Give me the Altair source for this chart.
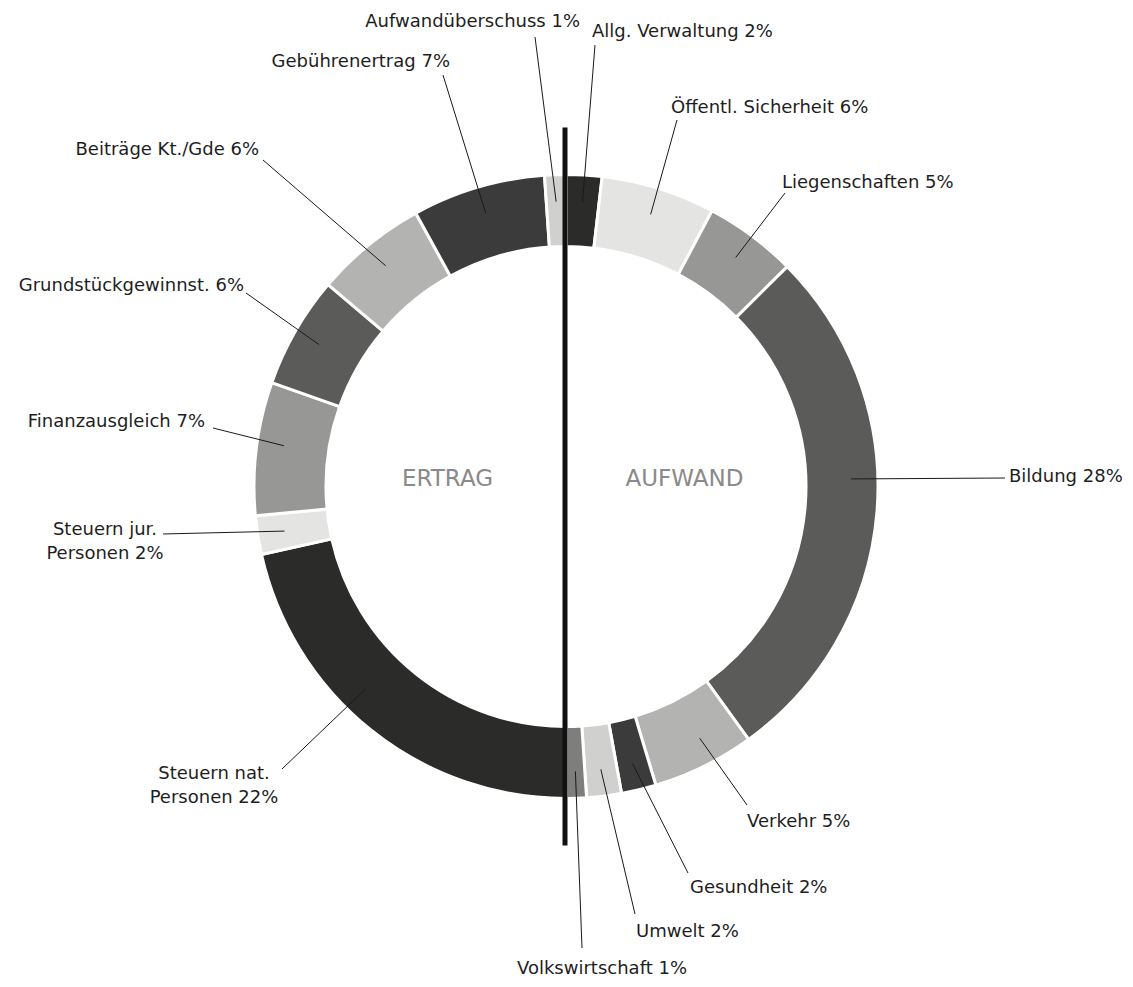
import math
import altair as alt
import pandas as pd

# ---------------- data ----------------
aufwand_labels = ["Allg. Verwaltung 2%", "Öffentl. Sicherheit 6%", "Liegenschaften 5%",
                  "Bildung 28%", "Verkehr 5%", "Gesundheit 2%", "Umwelt 2%",
                  "Volkswirtschaft 1%"]
aufwand_values = [1.85, 5.9, 4.8, 27.5, 5.3, 1.8, 1.8, 1.05]

ertrag_labels = ["Steuern nat.\nPersonen 22%", "Steuern jur.\nPersonen 2%",
                 "Finanzausgleich 7%", "Grundstückgewinnst. 6%", "Beiträge Kt./Gde 6%",
                 "Gebührenertrag 7%", "Aufwandüberschuss 1%"]
ertrag_values = [21.5, 2.0, 6.9, 5.8, 5.8, 6.9, 1.1]

palette = ["#2b2b29", "#e4e5e3", "#979896", "#5b5c5a", "#b3b4b2", "#3b3b3b", "#d0d1cf", "#7e7f7d"]

center_labels = ["ERTRAG", "AUFWAND"]

# ---------------- layout (pixels) ----------------
W, H = 1117, 971
CX, CY = 558, 478.5
R_OUT, R_IN = 312, 240
R_LEAD = 285

# label layout: (line end x, line end y, text x, text y, align, leader angle shift deg) -- page coords
aufwand_layout = [
    (595, 45, 592, 37, "left", 0),
    (677, 120, 671, 113, "left", 0),
    (785, 193, 782, 188, "left", 0),
    (1005, 478, 1009, 482, "left", -6.2),
    (747, 805, 747, 827, "left", -1.7),
    (688, 873, 690, 893, "left", 0),
    (635, 914, 636, 937, "left", 0),
    (582, 948, 517, 974, "left", 0),
]
ertrag_layout = [
    (282, 769, 214, 779, "center", 6),
    (163, 534, 105, 535, "center", 0),
    (213, 428, 205, 427, "right", 1.2),
    (246, 293, 244, 291, "right", 0),
    (263, 160, 259, 155, "right", 0),
    (443, 75, 450, 67, "right", 0),
    (535, 37, 580, 27, "right", 0),
]

rows = []
order = 0
for labels, values, layout in ((aufwand_labels, aufwand_values, aufwand_layout),
                               (ertrag_labels, ertrag_values, ertrag_layout)):
    for i, (lab, val) in enumerate(zip(labels, values)):
        ex, ey, tx, ty, al, sh = layout[i]
        rows.append(dict(label=lab, value=val, color=palette[i % len(palette)], order=order,
                         ex=ex - 8, ey=ey - 8, tx=tx - 8, ty=ty - 8, align=al, shift=sh))
        order += 1
df = pd.DataFrame(rows)

FONT = "DejaVu Sans"
FS = 18

base = alt.Chart(df)

ring = base.mark_arc(radius=R_OUT, radius2=R_IN, stroke="white", strokeWidth=3).encode(
    theta=alt.Theta("value:Q", stack=True, scale=alt.Scale(range=[0, 2 * math.pi])),
    order=alt.Order("order:Q"),
    color=alt.Color("color:N", scale=None),
    x=alt.value(CX),
    y=alt.value(CY),
)

leads = base.transform_window(
    cum="sum(value)", sort=[alt.SortField("order")], frame=[None, 0]
).transform_joinaggregate(
    total="sum(value)"
).transform_calculate(
    mid="(datum.cum - datum.value / 2) / datum.total * 2 * PI + datum.shift * PI / 180",
    x1=f"{CX} + {R_LEAD} * sin(datum.mid)",
    y1=f"{CY} - {R_LEAD} * cos(datum.mid)",
).mark_rule(color="#1a1a1a", strokeWidth=1).encode(
    x=alt.X("x1:Q", scale=None, axis=None),
    y=alt.Y("y1:Q", scale=None, axis=None),
    x2="ex:Q",
    y2="ey:Q",
)

def text_layer(al):
    return base.transform_filter(alt.datum.align == al).mark_text(
        align=al, baseline="alphabetic", font=FONT, fontSize=FS, color="#1e1e1e",
        lineBreak="\n", lineHeight=24,
    ).encode(
        x=alt.X("tx:Q", scale=None, axis=None),
        y=alt.Y("ty:Q", scale=None, axis=None),
        text="label:N",
    )

divider = alt.Chart(pd.DataFrame({"k": [0]})).mark_rule(color="#111111", strokeWidth=5).encode(
    x=alt.value(CX - 1), y=alt.value(CY - 359), y2=alt.value(CY + 359)
)

center_df = pd.DataFrame({"t": center_labels, "side": [-1, 1]})
center = alt.Chart(center_df).transform_calculate(
    px=f"{CX} + datum.side * 118.5",
    py=f"{CY} - 0.5",
).mark_text(font=FONT, fontSize=23, color="#8a8a8a", align="center", baseline="alphabetic").encode(
    x=alt.X("px:Q", scale=None, axis=None),
    y=alt.Y("py:Q", scale=None, axis=None),
    text="t:N",
)

chart = alt.layer(
    ring, leads, text_layer("left"), text_layer("right"), text_layer("center"), center, divider
).properties(
    width=W, height=H, autosize=alt.AutoSizeParams(type="none"), padding=0
).configure_view(stroke=None)

chart.save("out.html", embed_options={"renderer": "svg", "actions": False})
